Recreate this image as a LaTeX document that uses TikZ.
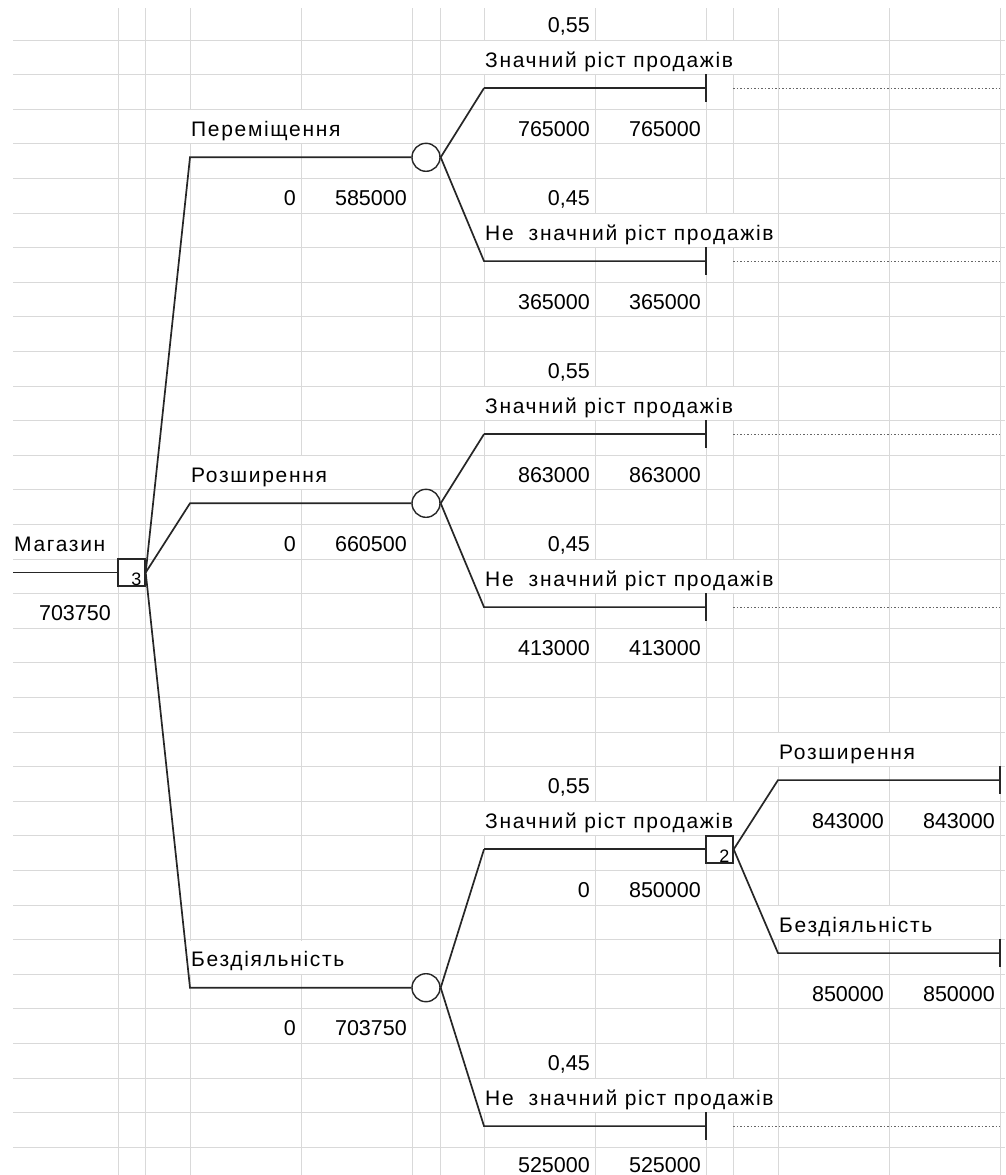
\documentclass[tikz,border=0pt]{standalone}
\usepackage{fontspec}
\newfontfamily\xlfont{Liberation Sans}
\newfontfamily\lblfont{Liberation Sans}[LetterSpace=8]
\usetikzlibrary{calc}

\tikzset{
  gridline/.style={draw=gray!30,line width=1pt},
  branch/.style={draw=black!85,line width=1.7pt},
  dotline/.style={draw=black!60,line width=1pt,dash pattern=on 1.5pt off 2pt},
  decbox/.style={draw=black!85,line width=1.4pt,fill=white,minimum size=27pt,inner sep=0pt},
  chance/.style={circle,draw=black!85,line width=1.4pt,fill=white,minimum size=28pt,inner sep=0pt},
  lbl/.style={anchor=base west,font=\lblfont\fontsize{21}{21}\selectfont,fill=white,
    inner xsep=3pt,inner ysep=0pt,text height=26pt,text depth=7pt},
  num/.style={anchor=base east,font=\xlfont\fontsize{21.5}{21.5}\selectfont,inner sep=0pt},
  boxno/.style={anchor=base east,font=\xlfont\fontsize{18}{18}\selectfont,inner sep=0pt}
}

\begin{document}
\begin{tikzpicture}[x=1pt,y=-1pt,
    declare function={ly(\k)=53.5+34.6*\k; by(\k)=min(67.1+34.6*\k,1172);}]
  \fill[white] (0,0) rectangle (1005,1175);
  \useasboundingbox (0,0) rectangle (1005,1175);
  % sheet grid
  \foreach \k in {0,...,32}
    \draw[gridline] (13,{40+34.6*\k}) -- (1005,{40+34.6*\k});
  \foreach \x in {118,145,190,301,412,440,484,595,706,733,778,889,1000}
    \draw[gridline] (\x,8) -- (\x,1175);

  % texts
  \node[lbl,inner xsep=0pt] (store) at (14,{by(14)}) {Магазин};
  \node[num] (storev) at (111,{by(16)}) {703750};
  \foreach \i/\r/\u/\l/\name/\ev/\lo in {1/3/1/6/Переміщення/585000/365000,
      2/13/11/16/Розширення/660500/413000,3/27/23/31/Бездіяльність/703750/525000} {
    \node[lbl] (n\i) at (188,{by(\r-1)}) {\name};
    \node[num] (z\i) at (296,{by(\r+1)}) {0};
    \node[num] (v\i) at (407,{by(\r+1)}) {\ev};
    \node[num] (pu\i) at (590,{by(\u-2)}) {0,55};
    \node[lbl] (nu\i) at (482,{by(\u-1)}) {Значний ріст продажів};
    \node[num] (pl\i) at (590,{by(\l-2)}) {0,45};
    \node[lbl] (nl\i) at (482,{by(\l-1)}) {Не\ \ значний ріст продажів};
    \node[num] (hl\i) at (590,{by(\l+1)}) {\lo};
    \node[num] (vl\i) at (701,{by(\l+1)}) {\lo};
  }
  \foreach \i/\u/\hi in {1/1/765000,2/11/863000} {
    \node[num] (hu\i) at (590,{by(\u+1)}) {\hi};
    \node[num] (vu\i) at (701,{by(\u+1)}) {\hi};
  }
  \node[num] (hu3) at (590,{by(24)}) {0};
  \node[num] (vu3) at (701,{by(24)}) {850000};
  \node[lbl] (na) at (776,{by(20)}) {Розширення};
  \node[num] (ha) at (884,{by(22)}) {843000};
  \node[num] (va) at (995,{by(22)}) {843000};
  \node[lbl] (nb) at (776,{by(25)}) {Бездіяльність};
  \node[num] (hb) at (884,{by(27)}) {850000};
  \node[num] (vb) at (995,{by(27)}) {850000};

  % tree
  \coordinate (start) at (13,{ly(15)});
  \node[decbox] (d3) at (131.5,{ly(15)}) {};
  \node[boxno] (d3no) at ([xshift=-4pt,yshift=1.5pt]d3.south east) {3};
  \draw[branch] (start) -- (d3);
  \foreach \i/\r/\u/\l in {1/3/1/6,2/13/11/16,3/27/23/31} {
    \coordinate (a\i) at (190,{ly(\r)});
    \node[chance] (c\i) at (426,{ly(\r)}) {};
    \draw[branch] (d3.east) -- (a\i) -- (c\i);
    \coordinate (u\i) at (484,{ly(\u)});
    \coordinate (ut\i) at (706,{ly(\u)});
    \coordinate (l\i) at (484,{ly(\l)});
    \coordinate (lt\i) at (706,{ly(\l)});
    \draw[branch] (c\i.east) -- (u\i);
    \draw[branch] (c\i.east) -- (l\i) -- (lt\i);
  }
  \draw[branch] (u1) -- (ut1);
  \draw[branch] (u2) -- (ut2);
  \node[decbox] (d2) at (719.5,{ly(23)}) {};
  \node[boxno] (d2no) at ([xshift=-4pt,yshift=1.5pt]d2.south east) {2};
  \draw[branch] (u3) -- (d2);
  \coordinate (sa) at (778,{ly(21)});
  \coordinate (sat) at (1000,{ly(21)});
  \coordinate (sb) at (778,{ly(26)});
  \coordinate (sbt) at (1000,{ly(26)});
  \draw[branch] (d2.east) -- (sa) -- (sat);
  \draw[branch] (d2.east) -- (sb) -- (sbt);
  % end points
  \foreach \t in {ut1,lt1,ut2,lt2,lt3,sat,sbt}
    \draw[branch] ([yshift=14pt]\t) -- ([yshift=-14pt]\t);
  \foreach \t in {ut1,lt1,ut2,lt2,lt3}
    \draw[dotline] ([xshift=27pt]\t) -- ([xshift=294pt]\t);
\end{tikzpicture}
\end{document}
